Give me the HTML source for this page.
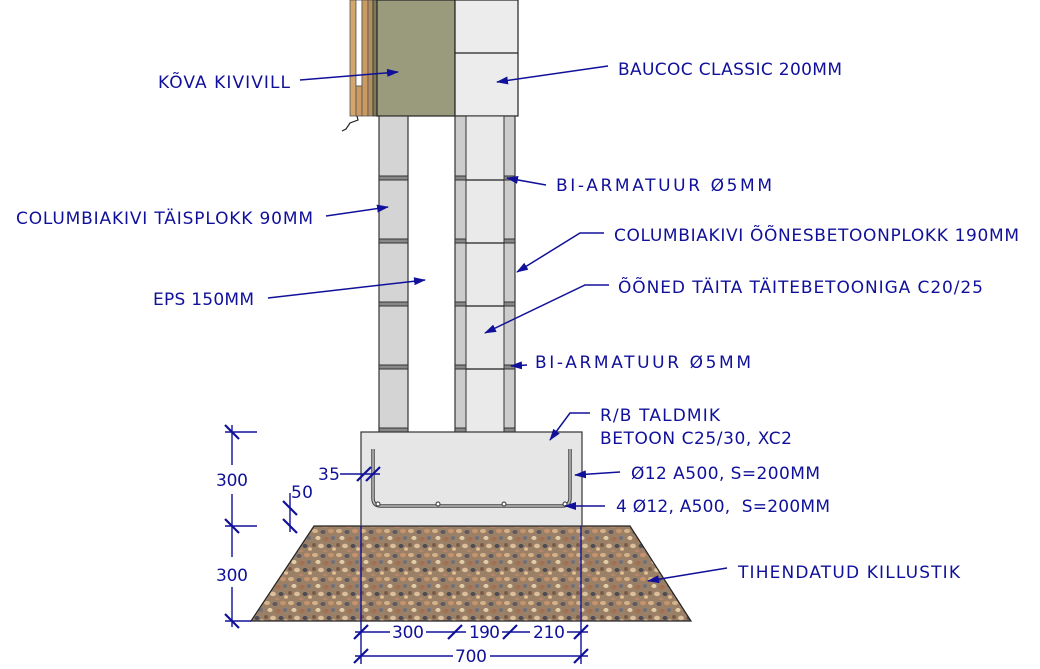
<!DOCTYPE html>
<html><head><meta charset="utf-8"><style>
html,body{margin:0;padding:0;background:#fff;}
svg{display:block;}
text{font-family:"DejaVu Sans","Liberation Sans",sans-serif;font-size:17px;fill:#10109a;}
</style></head><body>
<svg width="1040" height="669" viewBox="0 0 1040 669" xmlns="http://www.w3.org/2000/svg">
<defs>
<pattern id="grav" width="24" height="24" patternUnits="userSpaceOnUse">
<rect width="24" height="24" fill="#9b8068"/>
<ellipse cx="3" cy="3" rx="3" ry="2" fill="#d6b48a"/>
<ellipse cx="11" cy="4" rx="2.5" ry="2" fill="#5d5863"/>
<ellipse cx="19" cy="3" rx="3" ry="2.2" fill="#c9926a"/>
<ellipse cx="6" cy="10" rx="2.5" ry="2" fill="#e6cfa8"/>
<ellipse cx="14" cy="11" rx="3" ry="2" fill="#a56f4d"/>
<ellipse cx="21" cy="10" rx="2" ry="2" fill="#6f7078"/>
<ellipse cx="2" cy="17" rx="2" ry="2" fill="#7c5a48"/>
<ellipse cx="9" cy="18" rx="3" ry="2.2" fill="#dcc09a"/>
<ellipse cx="17" cy="18" rx="2.5" ry="2" fill="#4d4a55"/>
<ellipse cx="22" cy="21" rx="2" ry="1.8" fill="#e3bf94"/>
<ellipse cx="13" cy="23" rx="2.5" ry="1.5" fill="#b4866a"/>
</pattern>
<marker id="ar" markerWidth="12" markerHeight="8" refX="11" refY="4" orient="auto" markerUnits="userSpaceOnUse">
<path d="M0,0 L12,4 L0,8 Z" fill="#10109a"/>
</marker>
</defs>

<rect x="350" y="0" width="6" height="116" fill="#d2a66c" stroke="#555" stroke-width="0.8"/>
<rect x="356" y="0" width="6" height="86" fill="#fff" stroke="#555" stroke-width="0.8"/>
<rect x="356" y="86" width="6" height="30" fill="#c99a62" stroke="#555" stroke-width="0.8"/>
<rect x="362" y="0" width="6" height="116" fill="#c99a62" stroke="#555" stroke-width="0.8"/>
<rect x="368" y="0" width="5" height="116" fill="#b68e5c" stroke="#555" stroke-width="0.8"/>
<rect x="373" y="0" width="5" height="116" fill="#7b7a5a" stroke="#333" stroke-width="0.8"/>
<path d="M357,116 L358,120 L350,123 L346,129 L342,131" fill="none" stroke="#222" stroke-width="1.2"/>
<rect x="377" y="0" width="78" height="116" fill="#9a9a7c" stroke="#222" stroke-width="1.2"/>
<rect x="455" y="0" width="63" height="116" fill="#ececec" stroke="#222" stroke-width="1.2"/>
<line x1="455" y1="53" x2="518" y2="53" stroke="#222" stroke-width="1.2"/>

<rect x="379" y="116" width="29" height="316" fill="#d4d4d4" stroke="#333" stroke-width="1.2"/>
<g stroke="#333" stroke-width="1" fill="#888">
<rect x="379" y="176" width="29" height="4"/>
<rect x="379" y="239" width="29" height="4"/>
<rect x="379" y="302" width="29" height="4"/>
<rect x="379" y="365" width="29" height="4"/>
<rect x="379" y="428" width="29" height="4"/>
</g>
<rect x="455" y="116" width="60" height="316" fill="#ccc" stroke="#333" stroke-width="1.2"/>
<rect x="466" y="116" width="38" height="316" fill="#eaeaea" stroke="#333" stroke-width="1"/>
<g stroke="#333" stroke-width="1" fill="#888">
<rect x="455" y="176" width="11" height="4"/><rect x="504" y="176" width="11" height="4"/>
<rect x="455" y="239" width="11" height="4"/><rect x="504" y="239" width="11" height="4"/>
<rect x="455" y="302" width="11" height="4"/><rect x="504" y="302" width="11" height="4"/>
<rect x="455" y="365" width="11" height="4"/><rect x="504" y="365" width="11" height="4"/>
<rect x="455" y="428" width="11" height="4"/><rect x="504" y="428" width="11" height="4"/>
</g>
<g stroke="#222" stroke-width="1.2">
<line x1="466" y1="180" x2="504" y2="180"/>
<line x1="466" y1="243" x2="504" y2="243"/>
<line x1="466" y1="306" x2="504" y2="306"/>
<line x1="466" y1="369" x2="504" y2="369"/>
</g>

<polygon points="314,526 630,526 691,621 251,621" fill="url(#grav)" stroke="#222" stroke-width="1.2"/>
<rect x="361" y="432" width="221" height="94" fill="#e6e6e6" stroke="#333" stroke-width="1.2"/>
<path d="M373,449 L373,498 Q373,506 381,506 L562,506 Q570,506 570,498 L570,449" fill="none" stroke="#444" stroke-width="3.5"/>
<path d="M373,449 L373,498 Q373,506 381,506 L562,506 Q570,506 570,498 L570,449" fill="none" stroke="#bbb" stroke-width="1.5"/>
<g fill="#fff" stroke="#333" stroke-width="1"><circle cx="378" cy="504" r="2"/><circle cx="438" cy="504" r="2"/><circle cx="504" cy="504" r="2"/><circle cx="565" cy="504" r="2"/></g>

<g stroke="#10109a" stroke-width="1.5" fill="none" marker-end="url(#ar)">
<line x1="300" y1="80" x2="398" y2="72"/>
<line x1="608" y1="66" x2="497" y2="82"/>
<line x1="546" y1="185" x2="507" y2="178"/>
<line x1="326" y1="216" x2="388" y2="207"/>
<polyline points="604,233 580,233 517,272"/>
<polyline points="609,285 585,285 485,333"/>
<line x1="268" y1="298" x2="425" y2="280"/>
<line x1="527" y1="365" x2="511" y2="366"/>
<polyline points="590,413 570,413 550,440"/>
<line x1="620" y1="472" x2="575" y2="475"/>
<line x1="605" y1="506" x2="565" y2="506"/>
<line x1="727" y1="568" x2="648" y2="581"/>
</g>

<text x="158" y="88" textLength="132">KÕVA KIVIVILL</text>
<text x="618" y="75" textLength="224">BAUCOC CLASSIC 200MM</text>
<text x="556" y="191" textLength="216">BI-ARMATUUR Ø5MM</text>
<text x="16" y="224" textLength="297">COLUMBIAKIVI TÄISPLOKK 90MM</text>
<text x="614" y="241" textLength="405">COLUMBIAKIVI ÕÕNESBETOONPLOKK 190MM</text>
<text x="618" y="293" textLength="365">ÕÕNED TÄITA TÄITEBETOONIGA C20/25</text>
<text x="153" y="305" textLength="101">EPS 150MM</text>
<text x="535" y="368" textLength="216">BI-ARMATUUR Ø5MM</text>
<text x="600" y="421" textLength="120">R/B TALDMIK</text>
<text x="600" y="444" textLength="192">BETOON C25/30, XC2</text>
<text x="631" y="479" textLength="189">Ø12 A500, S=200MM</text>
<text x="616" y="512" textLength="214" xml:space="preserve">4 Ø12, A500,  S=200MM</text>
<text x="738" y="578" textLength="222">TIHENDATUD KILLUSTIK</text>

<g stroke="#10109a" stroke-width="1.4" fill="none">
<line x1="232" y1="425" x2="232" y2="465"/><line x1="232" y1="494" x2="232" y2="557"/><line x1="232" y1="587" x2="232" y2="627"/>
<line x1="225" y1="432" x2="257" y2="432"/><line x1="225" y1="526" x2="257" y2="526"/><line x1="225" y1="621" x2="251" y2="621"/>
</g>
<g stroke="#10109a" stroke-width="2.2" fill="none">
<line x1="225" y1="425" x2="239" y2="439"/><line x1="225" y1="519" x2="239" y2="533"/><line x1="225" y1="614" x2="239" y2="628"/>
<line x1="283" y1="501" x2="297" y2="515"/><line x1="283" y1="519" x2="297" y2="533"/>
<line x1="357" y1="481" x2="371" y2="467"/><line x1="366" y1="481" x2="380" y2="467"/>
<line x1="354" y1="639" x2="368" y2="625"/><line x1="448" y1="639" x2="462" y2="625"/><line x1="503" y1="639" x2="517" y2="625"/><line x1="574" y1="639" x2="588" y2="625"/>
<line x1="354" y1="663" x2="368" y2="649"/><line x1="574" y1="663" x2="588" y2="649"/>
</g>
<g stroke="#10109a" stroke-width="1.4" fill="none">
<line x1="290" y1="493" x2="290" y2="532"/>
<line x1="340" y1="474" x2="380" y2="474"/>
<line x1="361" y1="526" x2="361" y2="664"/><line x1="581" y1="526" x2="581" y2="664"/>
<line x1="355" y1="632" x2="390" y2="632"/><line x1="426" y1="632" x2="466" y2="632"/><line x1="502" y1="632" x2="530" y2="632"/><line x1="567" y1="632" x2="588" y2="632"/>
<line x1="355" y1="656" x2="453" y2="656"/><line x1="490" y1="656" x2="588" y2="656"/>
</g>
<text x="216" y="486" textLength="32">300</text>
<text x="216" y="581" textLength="32">300</text>
<text x="291" y="498" textLength="22">50</text>
<text x="318" y="480" textLength="22">35</text>
<text x="392" y="638" textLength="32">300</text>
<text x="469" y="638" textLength="31">190</text>
<text x="533" y="638" textLength="32">210</text>
<text x="455" y="662" textLength="32">700</text>
</svg>
</body></html>
